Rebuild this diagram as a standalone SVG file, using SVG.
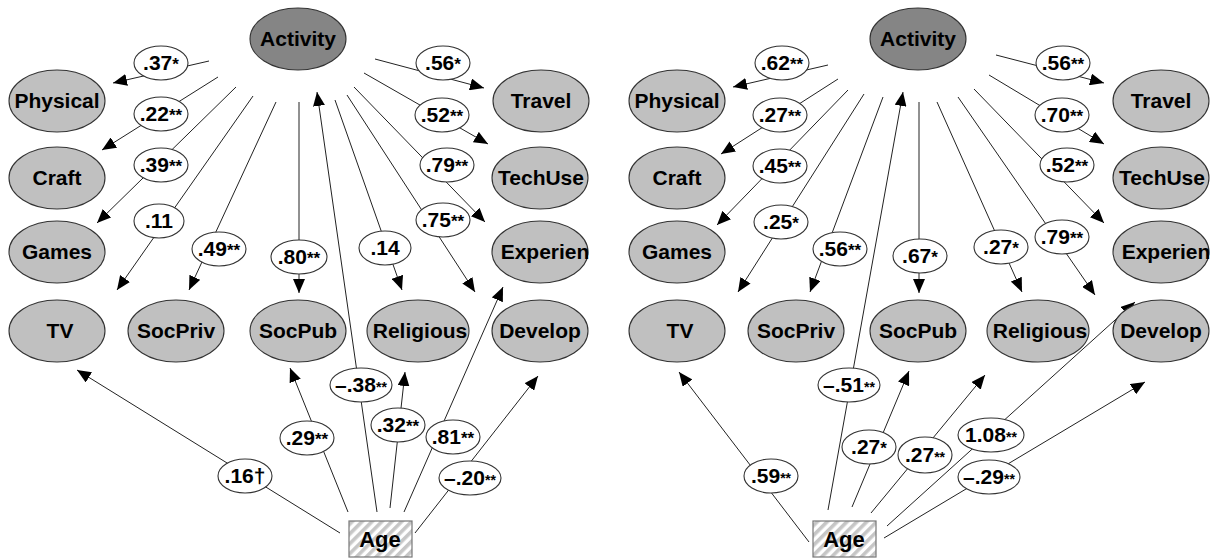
<svg xmlns="http://www.w3.org/2000/svg" width="1225" height="559" viewBox="0 0 1225 559">
<style>
.n{fill:#c0c0c0;stroke:#333;stroke-width:1.1}
.act{fill:#858585;stroke:#333;stroke-width:1.1}
.t{font-family:"Liberation Sans",Arial,sans-serif;font-weight:bold;font-size:21px;fill:#000;text-anchor:middle}
.c line{stroke:#222;stroke-width:1;marker-end:url(#ah)}
.l ellipse{fill:#fff;stroke:#333;stroke-width:1.1}
.l text{font-family:"Liberation Sans",Arial,sans-serif;font-weight:bold;font-size:21px;fill:#000;text-anchor:middle}
.s{font-size:17px}
.m{font-size:14px}
.age{fill:url(#hatch);stroke:#777;stroke-width:1.2}
</style>
<defs>
<marker id="ah" viewBox="0 0 14 12" refX="14" refY="6" markerWidth="14" markerHeight="12" markerUnits="userSpaceOnUse" orient="auto">
<path d="M0,0 L14,6 L0,12 z" fill="#000"/>
</marker>
<pattern id="hatch" patternUnits="userSpaceOnUse" width="7" height="7" patternTransform="rotate(45)">
<rect width="7" height="7" fill="#ffffff"/>
<rect width="3.6" height="7" fill="#c6c6c6"/>
</pattern>
</defs>
<rect width="1225" height="559" fill="#fff"/>

<g id="connectors" class="c">
<line x1="209" y1="61" x2="113" y2="83"/>
<line x1="218" y1="77" x2="102" y2="150"/>
<line x1="236" y1="87" x2="97" y2="223"/>
<line x1="253" y1="96" x2="117" y2="290"/>
<line x1="276" y1="102" x2="189" y2="290"/>
<line x1="299" y1="102" x2="299" y2="293"/>
<line x1="377" y1="512" x2="317" y2="92"/>
<line x1="335" y1="100" x2="402" y2="290"/>
<line x1="347" y1="95" x2="475" y2="292"/>
<line x1="354" y1="87" x2="485" y2="222"/>
<line x1="364" y1="73" x2="488" y2="144"/>
<line x1="375" y1="59" x2="484" y2="88"/>
<line x1="340" y1="533" x2="77" y2="370"/>
<line x1="348" y1="512" x2="290" y2="368"/>
<line x1="390" y1="508" x2="405" y2="372"/>
<line x1="404" y1="512" x2="503" y2="287"/>
<line x1="415" y1="533" x2="538" y2="376"/>
<line x1="828" y1="65" x2="733" y2="87"/>
<line x1="838" y1="79" x2="721" y2="154"/>
<line x1="848" y1="90" x2="717" y2="225"/>
<line x1="864" y1="94" x2="738" y2="292"/>
<line x1="883" y1="97" x2="810" y2="292"/>
<line x1="919" y1="102" x2="919" y2="293"/>
<line x1="828" y1="510" x2="903" y2="92"/>
<line x1="937" y1="102" x2="1022" y2="292"/>
<line x1="958" y1="97" x2="1095" y2="295"/>
<line x1="974" y1="89" x2="1104" y2="223"/>
<line x1="989" y1="75" x2="1104" y2="144"/>
<line x1="996" y1="55" x2="1104" y2="83"/>
<line x1="809" y1="542" x2="679" y2="372"/>
<line x1="852" y1="507" x2="909" y2="371"/>
<line x1="871" y1="513" x2="985" y2="375"/>
<line x1="887" y1="526" x2="1135" y2="302"/>
<line x1="884" y1="538" x2="1145" y2="382"/>
</g>

<g id="L-Activity"><ellipse class="act" cx="298" cy="39" rx="48" ry="31"/><text class="t" x="298" y="46">Activity</text></g>
<g id="L-Physical"><ellipse class="n" cx="57" cy="101" rx="48" ry="31"/><text class="t" x="57" y="108">Physical</text></g>
<g id="L-Craft"><ellipse class="n" cx="57" cy="178" rx="48" ry="31"/><text class="t" x="57" y="185">Craft</text></g>
<g id="L-Games"><ellipse class="n" cx="57" cy="252" rx="48" ry="31"/><text class="t" x="57" y="259">Games</text></g>
<g id="L-TV"><ellipse class="n" cx="57" cy="331" rx="48" ry="31"/><text class="t" x="60" y="338">TV</text></g>
<g id="L-SocPriv"><ellipse class="n" cx="176" cy="331" rx="48" ry="31"/><text class="t" x="176" y="338">SocPriv</text></g>
<g id="L-SocPub"><ellipse class="n" cx="298" cy="331" rx="48" ry="31"/><text class="t" x="298" y="338">SocPub</text></g>
<g id="L-Religious"><ellipse class="n" cx="418" cy="331" rx="51" ry="31"/><text class="t" x="420" y="338">Religious</text></g>
<g id="L-Develop"><ellipse class="n" cx="540" cy="331" rx="48" ry="31"/><text class="t" x="540" y="338">Develop</text></g>
<g id="L-Experien"><ellipse class="n" cx="540" cy="252" rx="48" ry="31"/><text class="t" x="545" y="259">Experien</text></g>
<g id="L-TechUse"><ellipse class="n" cx="540" cy="178" rx="48" ry="31"/><text class="t" x="541" y="185">TechUse</text></g>
<g id="L-Travel"><ellipse class="n" cx="541" cy="101" rx="48" ry="31"/><text class="t" x="541" y="108">Travel</text></g>
<g id="L-Age"><rect class="age" x="349" y="521" width="63" height="36"/><text class="t" x="380" y="547" style="font-size:22px">Age</text></g>

<g id="R-Activity"><ellipse class="act" cx="918" cy="39" rx="48" ry="31"/><text class="t" x="918" y="46">Activity</text></g>
<g id="R-Physical"><ellipse class="n" cx="677" cy="101" rx="48" ry="31"/><text class="t" x="677" y="108">Physical</text></g>
<g id="R-Craft"><ellipse class="n" cx="677" cy="178" rx="48" ry="31"/><text class="t" x="677" y="185">Craft</text></g>
<g id="R-Games"><ellipse class="n" cx="677" cy="252" rx="48" ry="31"/><text class="t" x="677" y="259">Games</text></g>
<g id="R-TV"><ellipse class="n" cx="677" cy="331" rx="48" ry="31"/><text class="t" x="680" y="338">TV</text></g>
<g id="R-SocPriv"><ellipse class="n" cx="796" cy="331" rx="48" ry="31"/><text class="t" x="796" y="338">SocPriv</text></g>
<g id="R-SocPub"><ellipse class="n" cx="918" cy="331" rx="48" ry="31"/><text class="t" x="918" y="338">SocPub</text></g>
<g id="R-Religious"><ellipse class="n" cx="1038" cy="331" rx="51" ry="31"/><text class="t" x="1040" y="338">Religious</text></g>
<g id="R-Develop"><ellipse class="n" cx="1161" cy="331" rx="48" ry="31"/><text class="t" x="1161" y="338">Develop</text></g>
<g id="R-Experien"><ellipse class="n" cx="1161" cy="252" rx="48" ry="31"/><text class="t" x="1166" y="259">Experien</text></g>
<g id="R-TechUse"><ellipse class="n" cx="1161" cy="178" rx="48" ry="31"/><text class="t" x="1162" y="185">TechUse</text></g>
<g id="R-Travel"><ellipse class="n" cx="1161" cy="101" rx="48" ry="31"/><text class="t" x="1161" y="108">Travel</text></g>
<g id="R-Age"><rect class="age" x="813" y="521" width="63" height="36"/><text class="t" x="844" y="547" style="font-size:22px">Age</text></g>

<g id="labels" class="l">
<g><ellipse cx="161" cy="63" rx="27" ry="17"/><text x="161" y="70">.37<tspan class="s">*</tspan></text></g>
<g><ellipse cx="161" cy="114" rx="27" ry="17"/><text x="161" y="121">.22<tspan class="s">**</tspan></text></g>
<g><ellipse cx="161" cy="165" rx="27" ry="17"/><text x="161" y="172">.39<tspan class="s">**</tspan></text></g>
<g><ellipse cx="159" cy="221" rx="25" ry="17"/><text x="159" y="228">.11</text></g>
<g><ellipse cx="219" cy="249" rx="27" ry="17"/><text x="219" y="256">.49<tspan class="s">**</tspan></text></g>
<g><ellipse cx="299" cy="257" rx="28" ry="17"/><text x="299" y="264">.80<tspan class="s">**</tspan></text></g>
<g><ellipse cx="361" cy="385" rx="31" ry="17"/><text x="361" y="392">–.38<tspan class="m">**</tspan></text></g>
<g><ellipse cx="385" cy="248" rx="26" ry="17"/><text x="385" y="255">.14</text></g>
<g><ellipse cx="443" cy="220" rx="27" ry="17"/><text x="443" y="227">.75<tspan class="s">**</tspan></text></g>
<g><ellipse cx="447" cy="165" rx="27" ry="17"/><text x="447" y="172">.79<tspan class="s">**</tspan></text></g>
<g><ellipse cx="442" cy="115" rx="27" ry="17"/><text x="442" y="122">.52<tspan class="s">**</tspan></text></g>
<g><ellipse cx="443" cy="63" rx="27" ry="17"/><text x="443" y="70">.56<tspan class="s">*</tspan></text></g>
<g><ellipse cx="245" cy="476" rx="27" ry="17"/><text x="245" y="483">.16†</text></g>
<g><ellipse cx="307" cy="438" rx="27" ry="17"/><text x="307" y="445">.29<tspan class="s">**</tspan></text></g>
<g><ellipse cx="398" cy="425" rx="27" ry="17"/><text x="398" y="432">.32<tspan class="s">**</tspan></text></g>
<g><ellipse cx="453" cy="437" rx="27" ry="17"/><text x="453" y="444">.81<tspan class="s">**</tspan></text></g>
<g><ellipse cx="470" cy="478" rx="31" ry="17"/><text x="470" y="485">–.20<tspan class="m">**</tspan></text></g>
<g><ellipse cx="782" cy="63" rx="27" ry="17"/><text x="782" y="70">.62<tspan class="s">**</tspan></text></g>
<g><ellipse cx="780" cy="115" rx="27" ry="17"/><text x="780" y="122">.27<tspan class="s">**</tspan></text></g>
<g><ellipse cx="780" cy="166" rx="27" ry="17"/><text x="780" y="173">.45<tspan class="s">**</tspan></text></g>
<g><ellipse cx="781" cy="222" rx="27" ry="17"/><text x="781" y="229">.25<tspan class="s">*</tspan></text></g>
<g><ellipse cx="840" cy="249" rx="27" ry="17"/><text x="840" y="256">.56<tspan class="s">**</tspan></text></g>
<g><ellipse cx="920" cy="256" rx="27" ry="17"/><text x="920" y="263">.67<tspan class="s">*</tspan></text></g>
<g><ellipse cx="849" cy="385" rx="31" ry="17"/><text x="849" y="392">–.51<tspan class="m">**</tspan></text></g>
<g><ellipse cx="1001" cy="247" rx="27" ry="17"/><text x="1001" y="254">.27<tspan class="s">*</tspan></text></g>
<g><ellipse cx="1062" cy="237" rx="27" ry="17"/><text x="1062" y="244">.79<tspan class="s">**</tspan></text></g>
<g><ellipse cx="1067" cy="165" rx="27" ry="17"/><text x="1067" y="172">.52<tspan class="s">**</tspan></text></g>
<g><ellipse cx="1062" cy="115" rx="27" ry="17"/><text x="1062" y="122">.70<tspan class="s">**</tspan></text></g>
<g><ellipse cx="1063" cy="63" rx="27" ry="17"/><text x="1063" y="70">.56<tspan class="s">**</tspan></text></g>
<g><ellipse cx="771" cy="476" rx="27" ry="17"/><text x="771" y="483">.59<tspan class="m">**</tspan></text></g>
<g><ellipse cx="869" cy="447" rx="27" ry="17"/><text x="869" y="454">.27<tspan class="s">*</tspan></text></g>
<g><ellipse cx="925" cy="455" rx="27" ry="18"/><text x="925" y="462">.27<tspan class="m">**</tspan></text></g>
<g><ellipse cx="991" cy="435" rx="33" ry="17"/><text x="991" y="442">1.08<tspan class="m">**</tspan></text></g>
<g><ellipse cx="989" cy="477" rx="31" ry="17"/><text x="989" y="484">–.29<tspan class="m">**</tspan></text></g>
</g>
</svg>
